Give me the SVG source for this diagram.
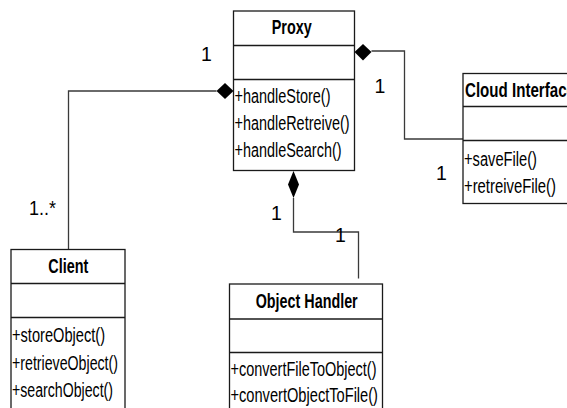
<svg xmlns="http://www.w3.org/2000/svg" width="567" height="408" viewBox="0 0 567 408">
  <style>
    .box { fill: #ffffff; stroke: #1a1a1a; stroke-width: 1.3; }
    .div { stroke: #1a1a1a; stroke-width: 1.3; }
    .title { font-family: "Liberation Sans", Arial, sans-serif; font-size: 19.5px; font-weight: bold; fill: #000; }
    .op { font-family: "Liberation Sans", Arial, sans-serif; font-size: 19.5px; fill: #000; }
    .mult { font-family: "Liberation Sans", Arial, sans-serif; font-size: 19.5px; fill: #000; }
    .link { fill: none; stroke: #3a3a3a; stroke-width: 1.3; }
    .diamond { fill: #000; stroke: none; }
  </style>
  <rect width="567" height="408" fill="#ffffff"/>

  <!-- connectors (composition) -->
  <g id="connectors">
    <polyline class="link" points="216.5,91 68.5,91 68.5,249.5"/>
    <polygon class="diamond" points="233.5,91 225,83 216.5,91 225,99"/>

    <polyline class="link" points="371.5,51 404.5,51 404.5,139 463,139"/>
    <polygon class="diamond" points="354.5,52 363,44 371.5,52 363,60.5"/>

    <polyline class="link" points="293.5,198 293.5,232 358.5,232 358.5,278.5"/>
    <polygon class="diamond" points="293.5,171 299,184.5 293.5,198 288,184.5"/>

    <text class="mult" x="201" y="60.5">1</text>
    <text class="mult" x="29" y="215" textLength="27" lengthAdjust="spacingAndGlyphs">1..*</text>
    <text class="mult" x="374.5" y="93">1</text>
    <text class="mult" x="436" y="180">1</text>
    <text class="mult" x="271" y="220">1</text>
    <text class="mult" x="335" y="241.5">1</text>
  </g>

  <!-- Proxy class -->
  <g id="proxy">
    <rect class="box" x="233.5" y="11" width="121" height="159.5"/>
    <line class="div" x1="233.5" y1="45.5" x2="354.5" y2="45.5"/>
    <line class="div" x1="233.5" y1="79.5" x2="354.5" y2="79.5"/>
    <text class="title" x="271.7" y="34" textLength="40" lengthAdjust="spacingAndGlyphs">Proxy</text>
    <text class="op" x="234.5" y="102.5" textLength="96" lengthAdjust="spacingAndGlyphs">+handleStore()</text>
    <text class="op" x="234.5" y="129.5" textLength="115" lengthAdjust="spacingAndGlyphs">+handleRetreive()</text>
    <text class="op" x="234.5" y="156.5" textLength="107" lengthAdjust="spacingAndGlyphs">+handleSearch()</text>
  </g>

  <!-- Cloud Interface class -->
  <g id="cloud-interface">
    <rect class="box" x="463" y="73.5" width="130" height="130"/>
    <line class="div" x1="463" y1="106.5" x2="593" y2="106.5"/>
    <line class="div" x1="463" y1="140.5" x2="593" y2="140.5"/>
    <text class="title" x="465" y="96.7" textLength="110" lengthAdjust="spacingAndGlyphs">Cloud Interface</text>
    <text class="op" x="464" y="166" textLength="73" lengthAdjust="spacingAndGlyphs">+saveFile()</text>
    <text class="op" x="464" y="193" textLength="92" lengthAdjust="spacingAndGlyphs">+retreiveFile()</text>
  </g>

  <!-- Client class -->
  <g id="client">
    <rect class="box" x="11" y="249.5" width="114" height="180"/>
    <line class="div" x1="11" y1="283.5" x2="125" y2="283.5"/>
    <line class="div" x1="11" y1="317.5" x2="125" y2="317.5"/>
    <text class="title" x="48.3" y="273" textLength="40" lengthAdjust="spacingAndGlyphs">Client</text>
    <text class="op" x="12" y="342" textLength="93" lengthAdjust="spacingAndGlyphs">+storeObject()</text>
    <text class="op" x="12" y="369.5" textLength="106" lengthAdjust="spacingAndGlyphs">+retrieveObject()</text>
    <text class="op" x="12" y="396.5" textLength="101" lengthAdjust="spacingAndGlyphs">+searchObject()</text>
  </g>

  <!-- Object Handler class -->
  <g id="object-handler">
    <rect class="box" x="229.5" y="284" width="153" height="150"/>
    <line class="div" x1="229.5" y1="319" x2="382.5" y2="319"/>
    <line class="div" x1="229.5" y1="352.5" x2="382.5" y2="352.5"/>
    <text class="title" x="255.7" y="307.5" textLength="102" lengthAdjust="spacingAndGlyphs">Object Handler</text>
    <text class="op" x="230.5" y="375.5" textLength="146" lengthAdjust="spacingAndGlyphs">+convertFileToObject()</text>
    <text class="op" x="230.5" y="401.5" textLength="147.5" lengthAdjust="spacingAndGlyphs">+convertObjectToFile()</text>
  </g>
</svg>
